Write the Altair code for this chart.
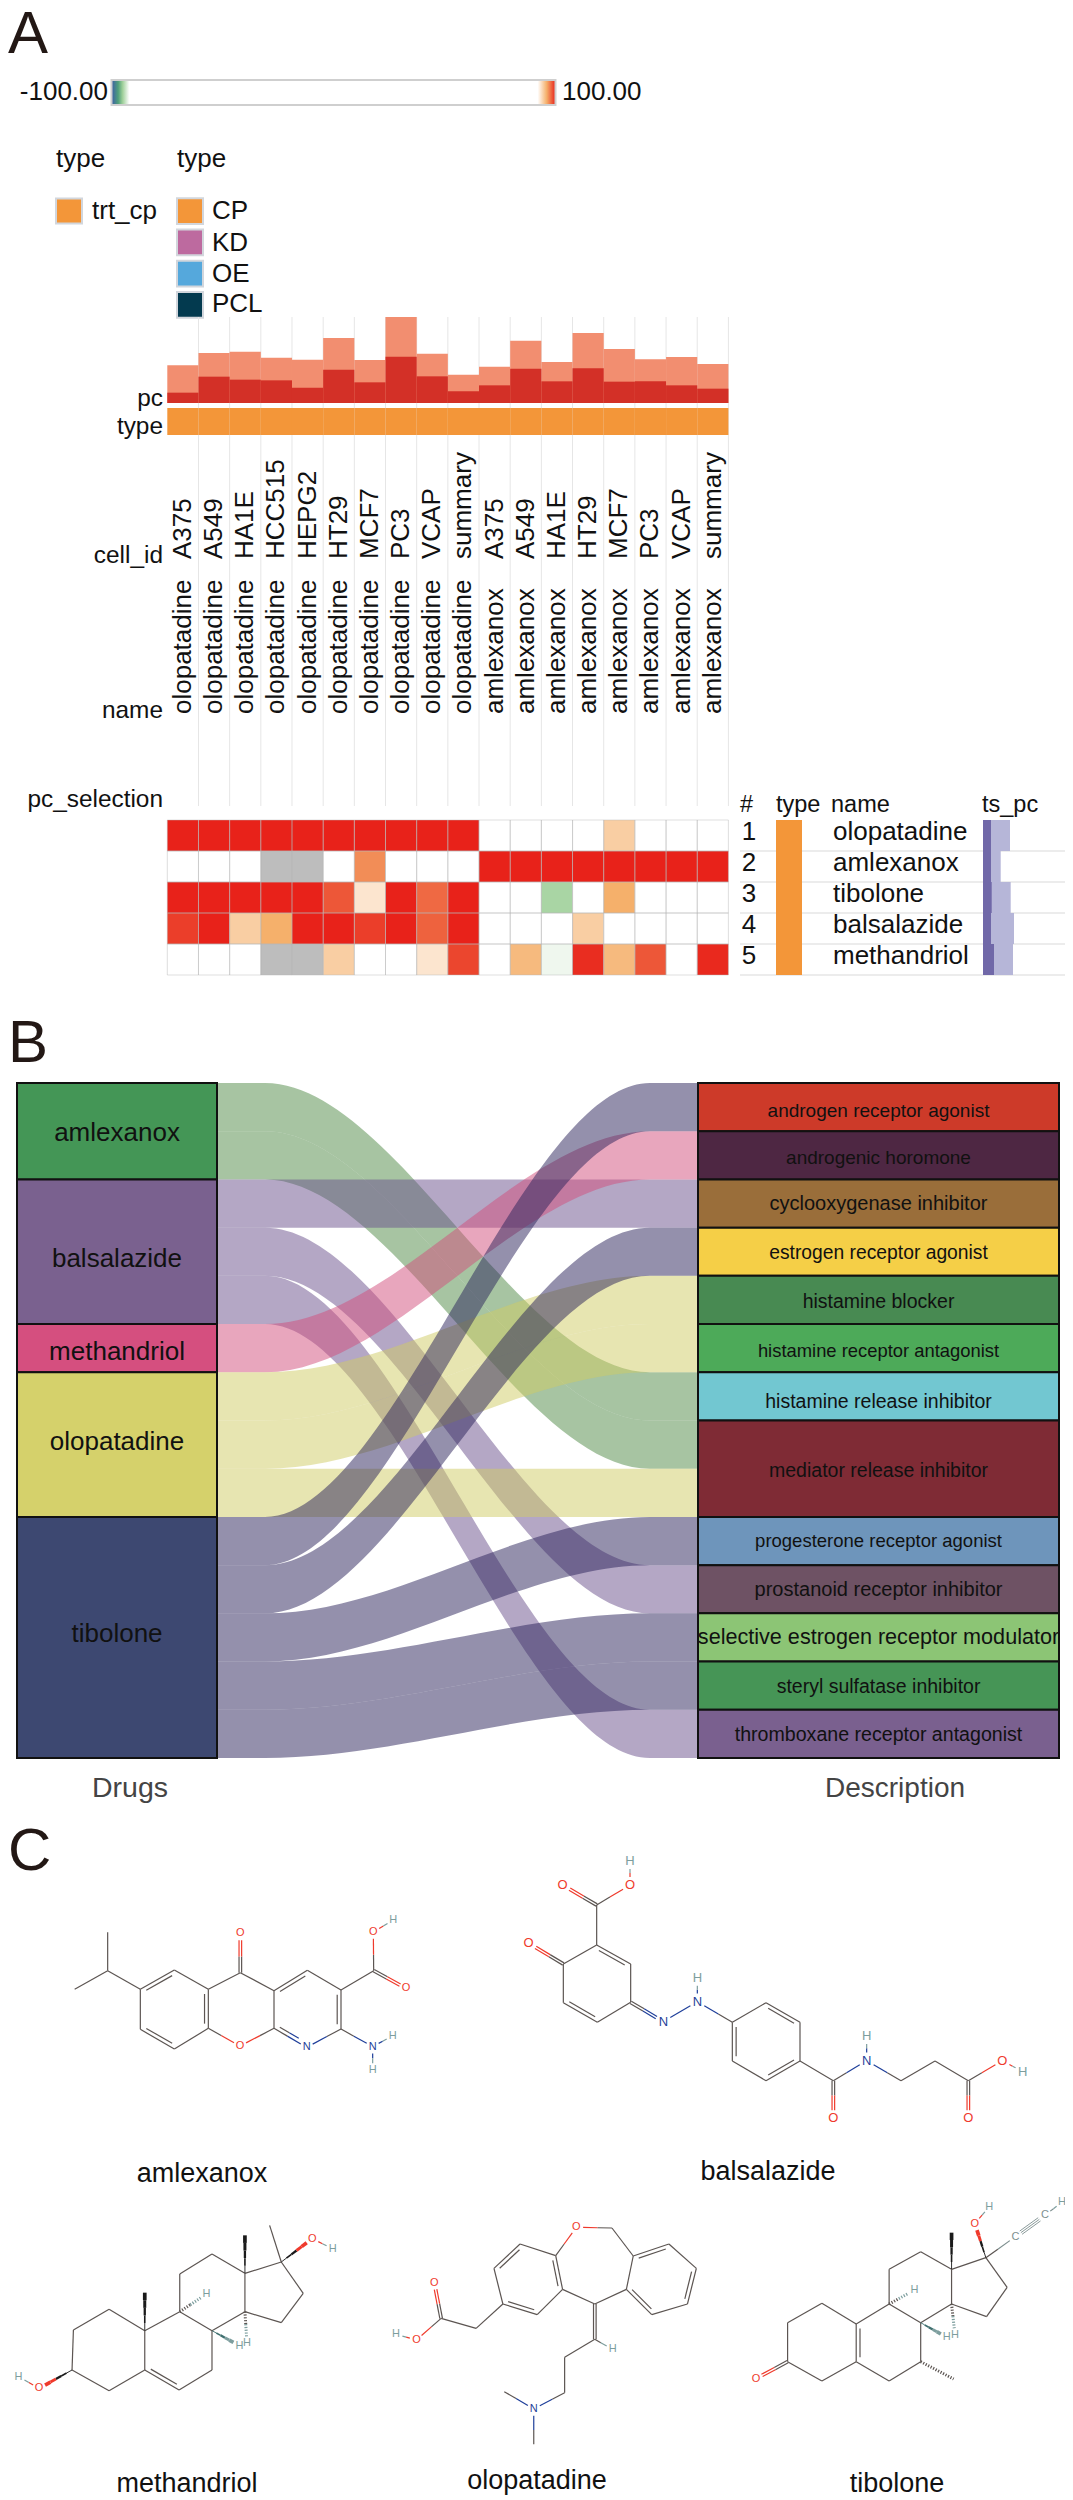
import altair as alt
import pandas as pd

M = 8  # page margin
FONT = "Liberation Sans"

# ---------- Panel A data ----------
cell_ids = ["A375","A549","HA1E","HCC515","HEPG2","HT29","MCF7","PC3","VCAP","summary",
            "A375","A549","HA1E","HT29","MCF7","PC3","VCAP","summary"]
col_names = ["olopatadine"]*10 + ["amlexanox"]*8
pc_light = [113,150,154,136,130,195,129,258,148,85,109,187,123,210,162,131,138,117]
pc_dark  = [31,79,70,68,46,100,62,139,80,35,53,103,65,104,64,65,53,43]
rows = ["olopatadine","amlexanox","tibolone","balsalazide","methandriol"]
heat = [
 [100,100,100,100,100,100,100,100,100,100,0,0,0,0,94.5,0,0,0],
 [0,0,0,None,None,0,97,0,0,0,100,100,100,100,100,100,100,100],
 [100,100,100,100,100,98.5,93.3,100,98,100,0,0,-94.7,0,96,0,0,0],
 [99.2,100,94.5,96,100,100,99.2,100,98.2,100,0,0,0,94.5,0,0,0,0],
 [0,0,0,None,None,94.5,0,0,93.3,99,0,95.5,-92.5,99.7,95.5,98.5,0,99.8],
]
ts_light = [27,17.7,27.7,31,30]
ts_dark = [8,8,8.7,8,11]
types = ["CP","KD","OE","PCL"]
type_colors = ["#f39639","#bd6a9f","#55a8dc","#033a4f"]
heat_domain = [-100,-97,-95,-92,92,96,100]
heat_range = ["#3b5ca8","#4f9f7a","#9fd09a","#ffffff","#ffffff","#f5b06b","#e8221a"]

# ---------- Panel B data ----------
drugs = ["amlexanox","balsalazide","methandriol","olopatadine","tibolone"]
drug_units = [2,3,1,3,5]
drug_colors = ["#449656","#7a618f","#d54f7f","#d5d16b","#3d4871"]
link_colors = ["#4f8a45","#6a4f8c","#d14d7c","#cfcb63","#29225a"]
drug_label_units = [1.2,3.82,5.75,7.62,11.6]
drug_label_sizes = [26,26,26,26,26]
descs = ["androgen receptor agonist","androgenic horomone","cyclooxygenase inhibitor","estrogen receptor agonist",
         "histamine blocker","histamine receptor antagonist","histamine release inhibitor","mediator release inhibitor",
         "progesterone receptor agonist","prostanoid receptor inhibitor","selective estrogen receptor modulator",
         "steryl sulfatase inhibitor","thromboxane receptor antagonist"]
desc_units = [1,1,1,1,1,1,1,2,1,1,1,1,1]
desc_colors = ["#cd3a29","#4e2743","#9a6e3a","#f5cf47","#488a52","#4daa59","#72c7d1","#7f2b35","#6e95bb","#6e5264","#8cc575","#469556","#7a608f"]
desc_label_units = [0.70,1.68,2.63,3.65,4.67,5.69,6.74,8.17,9.63,10.65,11.64,12.66,13.64]
desc_label_sizes = [19,19,20,19.3,19.5,18.4,19.5,19.5,18.5,20,21.6,19.5,19.6]
# flows: drug, left slot, right slot
flows = [("amlexanox",0,6),("amlexanox",1,7),
         ("balsalazide",2,2),("balsalazide",3,10),("balsalazide",4,13),
         ("methandriol",5,1),
         ("olopatadine",6,4),("olopatadine",7,5),("olopatadine",8,8),
         ("tibolone",9,0),("tibolone",10,3),("tibolone",11,9),("tibolone",12,11),("tibolone",13,12)]
flow_stages = [0,0.1,0.9,1]

# ---------- Panel C data: atoms (zoomed picture units) and bonds ----------
amlex_atoms = dict(a=(143,277),b=(143,392),c=(44,448),d=(241,448),e=(343,390),f=(445,448),g=(445,565),h=(343,627),i=(241,568),
    j=(541,398),k=(541,280,"O"),l=(642,452),m=(742,391),n=(843,450),o=(843,567),N=(740,622,"N"),p=(642,565),Or=(540,618,"O"),
    q=(941,392),Ou=(940,276,"O"),Hu=(1000,240,"H"),Od=(1038,445,"O"),Nh=(938,620,"N"),H1=(998,587,"H"),H2=(938,690,"H"))
amlex_bonds = [("a","b"),("b","c"),("b","d"),("d","e",2,"g"),("e","f"),("f","g",2,"h"),("g","h"),("h","i",2,"e"),("i","d"),
    ("f","j"),("j","k",2),("j","l"),("l","m",2,"o"),("m","n"),("n","o",2,"l"),("o","N"),("N","p",2,"n"),("p","l"),("p","Or"),("Or","g"),
    ("n","q"),("q","Ou"),("Ou","Hu"),("q","Od",2),("o","Nh"),("Nh","H1"),("Nh","H2")]
bals_atoms = dict(H=(345,33,"H"),O1=(345,105,"O"),C7=(245,165),O2=(143,105,"O"),Ca=(245,285),Cb=(347,342),Cc=(347,457),Cd=(247,517),
    Ce=(145,458),Cf=(145,342),O3=(41,280,"O"),N1=(445,515,"N"),N2=(547,455,"N"),H2=(547,383,"H"),P1=(652,517),P2=(753,458),P3=(855,517),
    P4=(855,633),P5=(753,692),P6=(652,633),Cam=(955,692),Oam=(955,805,"O"),Nam=(1055,632,"N"),Ham=(1055,558,"H"),Ca2=(1158,692),Cb2=(1260,633),
    Cac=(1360,692),Oac=(1360,805,"O"),Oh=(1462,632,"O"),Hh=(1523,665,"H"))
bals_bonds = [("O1","H"),("C7","O1"),("C7","O2",2),("C7","Ca"),("Ca","Cb",2,"Cc"),("Cb","Cc"),("Cc","Cd"),("Cd","Ce",2,"Ca"),("Ce","Cf"),("Cf","Ca"),
    ("Cf","O3",2),("Cc","N1",2),("N1","N2"),("N2","H2"),("N2","P1"),("P1","P2"),("P2","P3",2,"P5"),("P3","P4"),("P4","P5",2,"P2"),("P5","P6"),("P6","P1",2,"P3"),
    ("P4","Cam"),("Cam","Oam",2),("Cam","Nam"),("Nam","Ham"),("Nam","Ca2"),("Ca2","Cb2"),("Cb2","Cac"),("Cac","Oac",2),("Cac","Oh"),("Oh","Hh")]
meth_atoms = dict(C3=(105,1110),O3=(57,1165,"O"),H3=(27,1130,"H"),C4=(159,1172),C5=(211,1110),C6=(261,1170),C7=(309,1110),C8=(309,992),C9=(262,935),
    C10=(211,992),C1=(159,928),C2=(107,990),C19=(211,878),C11=(262,822),C12=(309,762),C13=(357,820),C18=(357,706),C14=(357,935),C15=(410,968),C16=(442,880),
    C17=(410,786),C20=(393,676),O17=(455,716,"O"),H17=(485,746,"H"),H9=(301,882,"H"),H8=(349,1037,"H"),H14=(360,1030,"H"))
meth_bonds = [("C3","C4"),("C4","C5"),("C5","C6",2,"C8"),("C6","C7"),("C7","C8"),("C8","C9"),("C9","C10"),("C10","C1"),("C1","C2"),("C2","C3"),("C5","C10"),
    ("C9","C11"),("C11","C12"),("C12","C13"),("C13","C14"),("C14","C8"),("C14","C15"),("C15","C16"),("C16","C17"),("C17","C13"),("C17","C20"),
    ("C3","O3","w"),("O3","H3"),("C10","C19","w"),("C13","C18","w"),("C17","O17","w"),("O17","H17"),("C9","H9","h"),("C8","H8","w"),("C14","H14","h")]
olop_atoms = dict(O=(840,682,"O"),M=(892,684),A1=(810,767),A2=(758,732),A3=(720,805),A4=(733,912),A5=(783,944),A6=(820,868),
    B1=(923,768),B2=(975,732),B3=(1015,805),B4=(1002,912),B5=(950,944),B6=(913,868),C11=(867,912),Ex=(867,1018),HE=(893,1048,"H"),
    Ca=(823,1072),Cb=(823,1178),N=(778,1227,"N"),Me1=(735,1175),Me2=(778,1333),Cs=(694,985),Cc=(643,955),Od=(633,848,"O"),Oh=(607,1020,"O"),Hh=(577,1003,"H"))
olop_bonds = [("O","M"),("O","A1"),("M","B1"),("A1","A2"),("A2","A3",2,"A6"),("A3","A4"),("A4","A5",2,"A1"),("A5","A6"),("A6","A1",2,"A3"),
    ("B1","B2",2,"B4"),("B2","B3"),("B3","B4",2,"B1"),("B4","B5"),("B5","B6",2,"B2"),("B6","B1"),("A6","C11"),("B6","C11"),("C11","Ex",2),("Ex","HE"),
    ("Ex","Ca"),("Ca","Cb"),("Cb","N"),("N","Me1"),("N","Me2"),("A4","Cs"),("Cs","Cc"),("Cc","Od",2),("Cc","Oh"),("Oh","Hh")]
tibo_atoms = dict(C3=(1148,1085),O=(1102,1136,"O"),C4=(1198,1143),C5=(1248,1085),C6=(1296,1143),C7=(1342,1085),Me=(1390,1137),C8=(1342,968),C9=(1296,912),
    C10=(1248,972),C1=(1198,910),C2=(1148,968),H9=(1333,870,"H"),C11=(1296,808),C12=(1342,755),C13=(1387,808),C18=(1387,698),C14=(1387,912),H14=(1392,1005,"H"),
    H8=(1380,1012,"H"),C15=(1438,950),C16=(1468,862),C17=(1437,773),O17=(1421,671,"O"),H17=(1442,620,"H"),Cal=(1480,710,"C"),Cyn=(1523,646,"C"),Hyn=(1548,606,"H"))
tibo_bonds = [("C3","O",2),("C3","C4"),("C4","C5"),("C5","C10",2,"C8"),("C5","C6"),("C6","C7"),("C7","C8"),("C8","C9"),("C9","C10"),("C10","C1"),("C1","C2"),("C2","C3"),
    ("C9","C11"),("C11","C12"),("C12","C13"),("C13","C14"),("C14","C8"),("C14","C15"),("C15","C16"),("C16","C17"),("C17","C13"),("C17","Cal"),("Cal","Cyn",3),("Cyn","Hyn"),
    ("C17","O17","w"),("O17","H17"),("C13","C18","w"),("C9","H9","h"),("C14","H14","h"),("C8","H8","w"),("C7","Me","h")]
# molecule, x origin, y origin, x divisor, y divisor, label size
molecules = [(amlex_atoms,amlex_bonds,60,1840,3,3,11),(bals_atoms,bals_bonds,515,1850,3,3,13),
             (meth_atoms,meth_bonds,0,2000,1.4576,3,11),(olop_atoms,olop_bonds,0,2000,1.4576,3,11),(tibo_atoms,tibo_bonds,0,2000,1.4576,3,11)]
mol_names = [("amlexanox",202,2182),("balsalazide",768,2180),("methandriol",187,2492),("olopatadine",537,2489),("tibolone",897,2492)]

ATOM_COL = {"O":"#ef3a2c","N":"#1f3f9a","H":"#7d9e9e","C":"#7d8f8f"}
BOND = "#5c5552"

def build_molecules():
    lines, dashed, labels = [], [], []
    for atoms,bonds,ox,oy,sx,sy,fs in molecules:
        P = {k:(ox+v[0]/sx, oy+v[1]/sy) for k,v in atoms.items()}
        L = {k:(v[2] if len(v)>2 else None) for k,v in atoms.items()}
        for k,lab in L.items():
            if lab:
                labels.append(dict(x=P[k][0],y=P[k][1],t=lab,c=ATOM_COL[lab],fs=fs))
        for b in bonds:
            a,c = b[0],b[1]
            kind = b[2] if len(b)>2 else 1
            toward = b[3] if len(b)>3 else None
            (x0,y0),(x1,y1) = P[a],P[c]
            dx,dy = x1-x0,y1-y0
            n = (dx*dx+dy*dy)**0.5
            ux,uy = dx/n,dy/n
            g = fs*0.62
            ga = g if L[a] else 0
            gc = g if L[c] else 0
            ax,ay = x0+ux*ga,y0+uy*ga
            cx,cy = x1-ux*gc,y1-uy*gc
            mx,my = (x0+x1)/2,(y0+y1)/2
            ca = ATOM_COL[L[a]] if L[a] else BOND
            cc = ATOM_COL[L[c]] if L[c] else BOND
            def seg(X0,Y0,X1,Y1,w=1.2,dash=False,off=(0,0)):
                if ca==cc:
                    parts=[(X0,Y0,X1,Y1,ca)]
                else:
                    MX,MY=(X0+X1)/2,(Y0+Y1)/2
                    parts=[(X0,Y0,MX,MY,ca),(MX,MY,X1,Y1,cc)]
                for p in parts:
                    (dashed if dash else lines).append(dict(x=p[0]+off[0],y=p[1]+off[1],x2=p[2]+off[0],y2=p[3]+off[1],c=p[4],w=w))
            if kind=="w":
                # tapered wedge, thin at the first atom
                steps=5
                for i in range(steps):
                    f0,f1=i/steps,(i+1)/steps
                    col = (cc if (L[c] and f0>=0.5) else ("#1a1a1a" if not L[c] or L[c]=="O" else "#3f6f6f"))
                    lines.append(dict(x=ax+(cx-ax)*f0,y=ay+(cy-ay)*f0,x2=ax+(cx-ax)*f1,y2=ay+(cy-ay)*f1,c=col,w=0.9+0.7*i))
            elif kind=="h":
                seg(ax,ay,cx,cy,w=3,dash=True)
            elif kind==2 and toward is not None:
                seg(ax,ay,cx,cy)
                tx,ty = P[toward]
                px,py = -uy,ux
                s = 1 if ((tx-mx)*px+(ty-my)*py)>0 else -1
                d = 3.8
                seg(ax+ux*n*0.12,ay+uy*n*0.12,cx-ux*n*0.12,cy-uy*n*0.12,off=(px*s*d,py*s*d))
            elif kind==2:
                px,py = -uy,ux
                seg(ax,ay,cx,cy,off=(px*1.3,py*1.3))
                seg(ax,ay,cx,cy,off=(-px*1.3,-py*1.3))
            elif kind==3:
                px,py = -uy,ux
                for o in (-2,0,2):
                    seg(ax,ay,cx,cy,w=0.9,off=(px*o,py*o))
            else:
                seg(ax,ay,cx,cy)
    return pd.DataFrame(lines),pd.DataFrame(dashed),pd.DataFrame(labels)

# ---------- helpers ----------
ONE = pd.DataFrame({"_":[0]})
def annot(text,x,y,size=26,align="left",baseline="alphabetic",color="#111111",font=FONT):
    return alt.Chart(ONE).mark_text(text=text,font=font,fontSize=size,align=align,baseline=baseline,color=color).encode(
        x=alt.value(x-M),y=alt.value(y-M))
def lin(dom,a,b):
    return alt.Scale(domain=dom,range=[a-M,b-M],nice=False,zero=False)

HX0,HX1 = 167.3,728.4
HY0,HY1 = 820,975
idx = list(range(18))
colX = alt.X("col:O",scale=alt.Scale(domain=idx,range=[HX0-M,HX1-M],paddingInner=0,paddingOuter=0),axis=None)
rowY = alt.Y("row:O",scale=alt.Scale(domain=rows,range=[HY0-M,HY1-M],paddingInner=0,paddingOuter=0),axis=None)
heatC = alt.Color("v:Q",scale=alt.Scale(domain=heat_domain,range=heat_range,interpolate="rgb"),legend=None)
layers = []

# panel letters
layers += [annot("A",8,53,60,color="#231815"),annot("B",8,1062,60,color="#231815"),annot("C",8,1870,60,color="#231815")]

# colour bar
n0 = 200.0
stops = [alt.GradientStop(offset=(d+100)/n0,color=c) for d,c in zip(heat_domain,heat_range)]
layers.append(alt.Chart(ONE).mark_rect(fill=alt.Gradient(gradient="linear",stops=stops,x1=0,x2=1,y1=0,y2=0),stroke="#cfcfcf",strokeWidth=2).encode(
    x=alt.value(111.5-M),x2=alt.value(555.5-M),y=alt.value(80-M),y2=alt.value(105-M)))
layers += [annot("-100.00",108,100,align="right"),annot("100.00",562,100)]

# legends
layers += [annot("type",56,167),annot("type",177,167),annot("trt_cp",92,219)]
layers.append(alt.Chart(ONE).mark_rect(fill=type_colors[0],stroke="#d2d6dc",strokeWidth=2).encode(
    x=alt.value(56-M),x2=alt.value(82-M),y=alt.value(198.5-M),y2=alt.value(223.5-M)))
tdf = pd.DataFrame({"t":types,"c":type_colors})
layers.append(alt.Chart(tdf).mark_rect(stroke="#d2d6dc",strokeWidth=2).encode(
    x=alt.value(177-M),x2=alt.value(203-M),
    y=alt.Y("t:O",scale=alt.Scale(domain=types,range=[195.5-M,320.5-M],paddingInner=0.18,paddingOuter=0.09),axis=None),
    color=alt.Color("c:N",scale=None)))
for t,b in zip(types,[219,251,282,312]):
    layers.append(annot(t,212,b))

# top vertical grid
gdf = pd.DataFrame({"b":list(range(1,19))})
layers.append(alt.Chart(gdf).mark_rule(color="#e6e6e6",strokeWidth=1).encode(
    x=alt.X("b:Q",scale=lin([0,18],HX0,HX1),axis=None),y=alt.value(317-M),y2=alt.value(806-M)))

# pc bars
pdf = pd.DataFrame({"col":idx,"pc":pc_light,"pcd":pc_dark})
pcs = lin([0,258],403,317)
layers.append(alt.Chart(pdf).mark_bar(color="#f28e70").encode(x=colX,y=alt.Y("pc:Q",scale=pcs,axis=None,stack=None)))
layers.append(alt.Chart(pdf).mark_bar(color="#d33027").encode(x=colX,y=alt.Y("pcd:Q",scale=pcs,axis=None,stack=None)))
# type band
layers.append(alt.Chart(pdf).mark_rect(color="#f39639").encode(x=colX,y=alt.value(408-M),y2=alt.value(435-M)))

# rotated labels
cdf = pd.DataFrame({"col":idx,"cell":cell_ids,"nm":col_names})
layers.append(alt.Chart(cdf).mark_text(font=FONT,fontSize=26,angle=270,align="left",baseline="middle",color="#111111").encode(
    x=colX,y=alt.value(559-M),text="cell:N"))
layers.append(alt.Chart(cdf).mark_text(font=FONT,fontSize=26,angle=270,align="left",baseline="middle",color="#111111").encode(
    x=colX,y=alt.value(714-M),text="nm:N"))
for t,b in [("pc",406),("type",434),("cell_id",563),("name",718),("pc_selection",807)]:
    layers.append(annot(t,163,b,size=24.4,align="right"))

# heat map
hdf = pd.DataFrame([{"row":r,"col":c,"v":heat[i][c]} for i,r in enumerate(rows) for c in idx])
layers.append(alt.Chart(hdf[hdf.v.notna()]).mark_rect().encode(x=colX,y=rowY,color=heatC))
layers.append(alt.Chart(hdf[hdf.v.isna()].drop(columns="v")).mark_rect(color="#bdbdbd").encode(x=colX,y=rowY))
layers.append(alt.Chart(hdf.drop(columns="v")).mark_rect(fill="transparent",stroke="#b5b5b5",strokeOpacity=0.45,strokeWidth=1).encode(x=colX,y=rowY))

# right table
rdf = pd.DataFrame({"row":rows,"num":[str(i+1) for i in range(5)],"tl":ts_light,"td":ts_dark,"line":[1,2,3,4,5]})
layers.append(alt.Chart(rdf).mark_rule(color="#e6e6e6",strokeWidth=1.5).encode(
    y=alt.Y("line:Q",scale=lin([0,5],HY0,HY1),axis=None),x=alt.value(740-M),x2=alt.value(1070-M)))
for t,x in [("#",740),("type",776),("name",831),("ts_pc",982)]:
    layers.append(annot(t,x,812,size=23.5))
layers.append(alt.Chart(rdf).mark_rect(color="#f39639").encode(x=alt.value(776-M),x2=alt.value(802-M),y=rowY))
layers.append(alt.Chart(rdf).mark_text(font=FONT,fontSize=26,align="center",baseline="alphabetic",dy=4.5,color="#111111").encode(
    x=alt.value(749-M),y=rowY,text="num:N"))
layers.append(alt.Chart(rdf).mark_text(font=FONT,fontSize=26,align="left",baseline="alphabetic",dy=4.5,color="#111111").encode(
    x=alt.value(833-M),y=rowY,text="row:N"))
tss = lin([0,90],983,1073)
layers.append(alt.Chart(rdf).mark_bar(color="#b6b6d8").encode(y=rowY,x=alt.X("tl:Q",scale=tss,axis=None,stack=None)))
layers.append(alt.Chart(rdf).mark_bar(color="#7068a8").encode(y=rowY,x=alt.X("td:Q",scale=tss,axis=None,stack=None)))

# ---------- Panel B ----------
SY0,SY1 = 1083,1758
LX0,LX1,RX0,RX1 = 17,217,698,1059
unitY = lin([0,14],SY0,SY1)
frows = []
for i,(d,l,r) in enumerate(flows):
    for s,base in zip(flow_stages,[l,l,r,r]):
        frows.append(dict(flow=f"f{i}",drug=d,stage=s,ytop=base,ybot=base+1))
fdf = pd.DataFrame(frows)
layers.append(alt.Chart(fdf).mark_area(interpolate="monotone",opacity=0.5,orient="vertical").encode(
    x=alt.X("stage:Q",scale=lin([0,1],LX1,RX0),axis=None),
    y=alt.Y("ytop:Q",scale=unitY,axis=None,stack=None),y2=alt.Y2("ybot:Q"),
    color=alt.Color("drug:N",scale=alt.Scale(domain=drugs,range=link_colors),legend=None),
    detail="flow:N"))
def nodes(names,units,colors,label_units,sizes,x0,x1):
    st,en=[],[]
    t=0
    for u in units:
        st.append(t); t+=u; en.append(t)
    df=pd.DataFrame({"n":names,"s":st,"e":en,"c":colors,"lu":label_units,"fs":sizes})
    rect=alt.Chart(df).mark_rect(stroke="#111111",strokeWidth=2).encode(
        x=alt.value(x0-M),x2=alt.value(x1-M),
        y=alt.Y("s:Q",scale=unitY,axis=None),y2="e:Q",color=alt.Color("c:N",scale=None))
    txt=alt.Chart(df).mark_text(font=FONT,align="center",baseline="alphabetic",color="#111111").encode(
        x=alt.value((x0+x1)/2-M),y=alt.Y("lu:Q",scale=unitY,axis=None),text="n:N",size=alt.Size("fs:Q",scale=None))
    return [rect,txt]
layers += nodes(drugs,drug_units,drug_colors,drug_label_units,drug_label_sizes,LX0,LX1)
layers += nodes(descs,desc_units,desc_colors,desc_label_units,desc_label_sizes,RX0,RX1)
layers += [annot("Drugs",130,1797,28.5,align="center",color="#444444"),annot("Description",895,1797,28,align="center",color="#444444")]

# ---------- Panel C ----------
ldf,ddf,adf = build_molecules()
mx = alt.X("x:Q",scale=lin([0,1073],0,1073),axis=None)
my = alt.Y("y:Q",scale=lin([0,2500],0,2500),axis=None)
layers.append(alt.Chart(ldf).mark_rule().encode(x=mx,y=my,x2="x2:Q",y2="y2:Q",color=alt.Color("c:N",scale=None),strokeWidth=alt.StrokeWidth("w:Q",scale=None)))
layers.append(alt.Chart(ddf).mark_rule(strokeDash=[1.2,1.6]).encode(x=mx,y=my,x2="x2:Q",y2="y2:Q",color=alt.Color("c:N",scale=None),strokeWidth=alt.StrokeWidth("w:Q",scale=None)))
layers.append(alt.Chart(adf).mark_text(font=FONT,baseline="middle",align="center").encode(x=mx,y=my,text="t:N",color=alt.Color("c:N",scale=None),size=alt.Size("fs:Q",scale=None)))
for t,x,y in mol_names:
    layers.append(annot(t,x,y,27,align="center"))

chart = alt.layer(*layers).resolve_scale(x="independent",y="independent",color="independent",size="independent",strokeWidth="independent").properties(
    width=1057,height=2488,padding=0,autosize=alt.AutoSizeParams(type="none")).configure_view(stroke=None)
chart.save("out.html",embed_options={"renderer":"svg","actions":False})
